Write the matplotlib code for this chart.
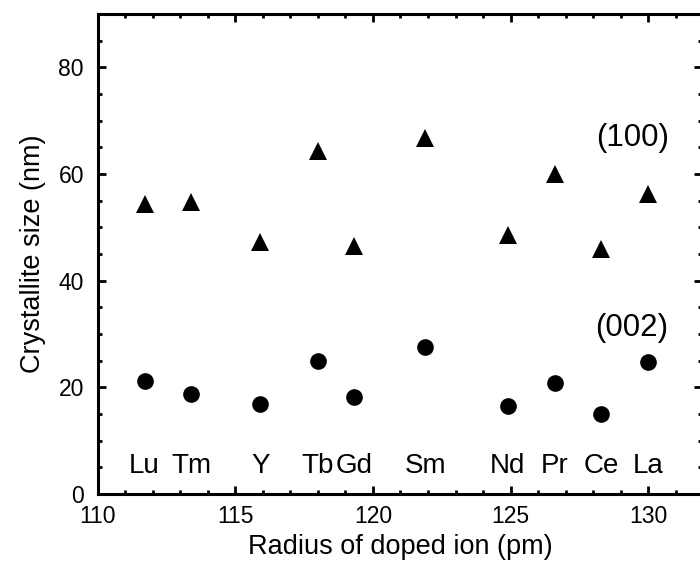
import matplotlib
matplotlib.use("Agg")
from matplotlib import pyplot as plt
from matplotlib.ticker import MultipleLocator

plt.rcParams['font.family'] = ['Liberation Sans', 'DejaVu Sans']

# ionic radius (pm) of each dopant
ions = ['Lu', 'Tm', 'Y', 'Tb', 'Gd', 'Sm', 'Nd', 'Pr', 'Ce', 'La']
radius = [111.7, 113.4, 115.9, 118.0, 119.3, 121.9, 124.9, 126.6, 128.3, 130.0]
# crystallite size (nm) from (100) and (002) reflections
size_100 = [54.4, 54.7, 47.3, 64.4, 46.5, 66.8, 48.6, 60.0, 45.9, 56.3]
size_002 = [21.1, 18.75, 16.9, 25.0, 18.1, 27.6, 16.5, 20.75, 15.0, 24.8]

fig = plt.figure(figsize=(7, 5.63), dpi=100)
ax = fig.add_axes([0.1397, 0.1226, 0.8633, 0.8524])

ax.plot(radius, size_100, '^', color='black', markersize=12.5, markeredgewidth=0)
ax.plot(radius, size_002, 'o', color='black', markersize=12, markeredgewidth=0)

for name, r in zip(ions, radius):
    ax.text(r, 5.3, name, ha='center', va='center', fontsize=20)

ax.text(129.45, 66.7, '(100)', ha='center', va='center', fontsize=22.5)
ax.text(129.4, 31.2, '(002)', ha='center', va='center', fontsize=22.5)

ax.set_xlim(110, 131.96)
ax.set_ylim(0, 90)
ax.xaxis.set_major_locator(MultipleLocator(5))
ax.xaxis.set_minor_locator(MultipleLocator(1))
ax.yaxis.set_major_locator(MultipleLocator(20))
ax.yaxis.set_minor_locator(MultipleLocator(5))
ax.tick_params(which='both', direction='in', top=True, right=True, labelsize=16.5, width=2)
ax.tick_params(which='major', length=5.5)
ax.tick_params(which='minor', length=3)
ax.tick_params(axis='x', which='major', pad=8)
ax.tick_params(axis='y', which='major', pad=10)
for sp in ax.spines.values():
    sp.set_linewidth(2.2)

ax.set_xlabel('Radius of doped ion (pm)', fontsize=19.5, labelpad=4)
ax.set_ylabel('Crystallite size (nm)', fontsize=19.5, labelpad=9)

fig.savefig('out.png', dpi=100)
